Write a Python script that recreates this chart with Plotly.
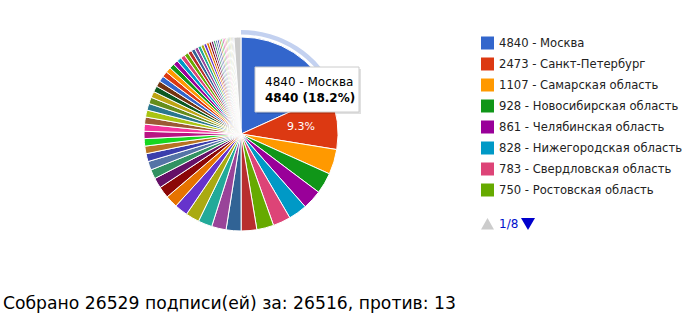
import math
import plotly.graph_objects as go

# ---------------- data ----------------
regions = [
    "Москва", "Санкт-Петербург", "Самарская область", "Новосибирская область",
    "Челябинская область", "Нижегородская область", "Свердловская область", "Ростовская область",
    "Краснодарский край", "Пермский край", "Республика Башкортостан", "Республика Татарстан",
    "Московская область", "Красноярский край", "Омская область", "Воронежская область",
    "Иркутская область", "Саратовская область", "Тюменская область", "Волгоградская область",
    "Алтайский край", "Кемеровская область", "Ярославская область", "Томская область",
    "Приморский край", "Оренбургская область", "Удмуртская Республика", "Ленинградская область",
    "Калининградская область", "Ульяновская область", "Хабаровский край", "Тульская область",
    "Владимирская область", "Тверская область", "Пензенская область", "Ставропольский край",
    "Рязанская область", "Ивановская область", "Кировская область", "Вологодская область",
    "Архангельская область", "Республика Карелия", "Республика Коми", "Мурманская область",
    "Белгородская область", "Курская область", "Липецкая область", "Тамбовская область",
    "Брянская область", "Калужская область", "Смоленская область", "Орловская область",
    "Костромская область", "Новгородская область", "Псковская область", "Курганская область",
    "Астраханская область", "Чувашская Республика", "Республика Марий Эл", "Республика Мордовия",
    "Забайкальский край", "Амурская область", "Сахалинская область", "Other",
]
votes = [
    4840, 2473, 1107, 928, 861, 828, 783, 750,
    690, 660, 640, 620, 605, 585, 550, 510,
    455, 410, 385, 350, 335, 330, 320, 315,
    312, 308, 300, 285, 272, 264, 256, 255,
    245, 235, 225, 215, 205, 195, 185, 175,
    165, 155, 145, 135, 125, 115, 105, 98,
    92, 86, 80, 75, 70, 66, 62, 58,
    55, 52, 49, 46, 43, 41, 39, 310,
]
palette = [
    "#3366cc", "#dc3912", "#ff9900", "#109618", "#990099", "#0099c6", "#dd4477", "#66aa00",
    "#b82e2e", "#316395", "#994499", "#22aa99", "#aaaa11", "#6633cc", "#e67300", "#8b0707",
    "#651067", "#329262", "#5574a6", "#3b3eac", "#b77322", "#16d620", "#b91383", "#f4359e",
    "#9c5935", "#a9c413", "#2a778d", "#668d1c", "#bea413", "#0c5922", "#743411",
]
other_color = "#cccccc"
total_signed = 26529
votes_for = 26516
votes_against = 13
legend_page = 1
legend_pages = 8
legend_per_page = 8
hovered = 0          # slice under the tooltip
labelled = [1]       # slice percentages left visible (the hovered one is covered by the tooltip)

# ---------------- figure ----------------
W, H = 687, 321
colors = [palette[i % len(palette)] for i in range(len(votes) - 1)] + [other_color]
labels = [f"{v} - {r}" for v, r in zip(votes, regions)]
total = sum(votes)

def px_x(x):
    return x / W

def px_y(y):
    return 1 - y / H

cx, cy, R = 241, 134, 97

fig = go.Figure()

fig.add_trace(go.Pie(
    labels=labels, values=votes, sort=False, direction="clockwise", rotation=0,
    marker=dict(colors=colors, line=dict(color="white", width=1)),
    textinfo="none",
    domain=dict(x=[px_x(cx - R), px_x(cx + R)], y=[px_y(cy + R), px_y(cy - R)]),
    showlegend=False, hoverinfo="none",
))

# hover highlight ring on the hovered slice
R2, Rin = 104, 99.5
ring_colors = ["rgba(0,0,0,0)"] * len(votes)
ring_colors[hovered] = "#c3d1f0"
fig.add_trace(go.Pie(
    labels=labels, values=votes, sort=False, direction="clockwise", rotation=0,
    marker=dict(colors=ring_colors, line=dict(width=0)),
    textinfo="none", hole=Rin / R2,
    domain=dict(x=[px_x(cx - R2), px_x(cx + R2)], y=[px_y(cy + R2), px_y(cy - R2)]),
    showlegend=False, hoverinfo="none",
))

shapes = []
annotations = []

# slice percentage labels (placed at the slice's mid angle)
cum = [0]
for v in votes:
    cum.append(cum[-1] + v)
for i in labelled:
    mid = (cum[i] + cum[i + 1]) / 2 / total * 2 * math.pi
    r = 0.62 * R
    lxp, lyp = cx + r * math.sin(mid), cy - r * math.cos(mid)
    annotations.append(dict(xref="paper", yref="paper", x=px_x(lxp), y=px_y(lyp),
                            xanchor="center", yanchor="middle", showarrow=False,
                            text=f"{votes[i] / total * 100:.1f}%",
                            font=dict(family="DejaVu Sans", size=11, color="white")))

# legend (first page)
lx, ly0, dy = 481, 43, 21
for i in range(legend_per_page):
    y = ly0 + i * dy
    shapes.append(dict(type="rect", xref="paper", yref="paper",
                       x0=px_x(lx), x1=px_x(lx + 13), y0=px_y(y + 6.5), y1=px_y(y - 6.5),
                       fillcolor=colors[i], line=dict(width=0)))
    annotations.append(dict(xref="paper", yref="paper", x=px_x(lx + 16), y=px_y(y),
                            xanchor="left", yanchor="middle", showarrow=False,
                            text=labels[i], font=dict(family="DejaVu Sans", size=11.6, color="#222222")))

# pager
py = 224
shapes.append(dict(type="path", xref="paper", yref="paper",
                   path=f"M {px_x(481)} {px_y(py+5.5)} L {px_x(494)} {px_y(py+5.5)} L {px_x(487.5)} {px_y(py-6)} Z",
                   fillcolor="#cccccc", line=dict(width=0)))
shapes.append(dict(type="path", xref="paper", yref="paper",
                   path=f"M {px_x(521)} {px_y(py-6)} L {px_x(535)} {px_y(py-6)} L {px_x(528)} {px_y(py+6)} Z",
                   fillcolor="#0000cc", line=dict(width=0)))
annotations.append(dict(xref="paper", yref="paper", x=px_x(497), y=px_y(py),
                        xanchor="left", yanchor="middle", showarrow=False,
                        text=f"{legend_page}/{legend_pages}",
                        font=dict(family="DejaVu Sans", size=12, color="#0011cc")))

# tooltip
tx0, ty0, tx1, ty1 = 255, 67, 359, 112
shapes.append(dict(type="rect", xref="paper", yref="paper", layer="above",
                   x0=px_x(tx0 + 2), x1=px_x(tx1 + 2), y0=px_y(ty1 + 2), y1=px_y(ty0 + 2),
                   fillcolor="rgba(0,0,0,0.12)", line=dict(width=0)))
shapes.append(dict(type="rect", xref="paper", yref="paper", layer="above",
                   x0=px_x(tx0), x1=px_x(tx1), y0=px_y(ty1), y1=px_y(ty0),
                   fillcolor="white", line=dict(color="#cccccc", width=1)))
pct0 = votes[hovered] / total * 100
annotations.append(dict(xref="paper", yref="paper", x=px_x(263), y=px_y(82),
                        xanchor="left", yanchor="middle", showarrow=False,
                        text=labels[hovered], font=dict(family="DejaVu Sans", size=12, color="#000000")))
annotations.append(dict(xref="paper", yref="paper", x=px_x(263), y=px_y(98),
                        xanchor="left", yanchor="middle", showarrow=False,
                        text=f"<b>{votes[hovered]} ({pct0:.1f}%)</b>",
                        font=dict(family="DejaVu Sans", size=12, color="#000000")))

# footer text
annotations.append(dict(xref="paper", yref="paper", x=px_x(1), y=px_y(303),
                        xanchor="left", yanchor="middle", showarrow=False,
                        text=f"Собрано {total_signed} подписи(ей) за: {votes_for}, против: {votes_against}",
                        font=dict(family="DejaVu Sans", size=17.2, color="#000000")))

fig.update_layout(
    width=W, height=H, margin=dict(l=0, r=0, t=0, b=0),
    paper_bgcolor="white", plot_bgcolor="white",
    shapes=shapes, annotations=annotations, showlegend=False,
)

fig.write_html("out.html")
